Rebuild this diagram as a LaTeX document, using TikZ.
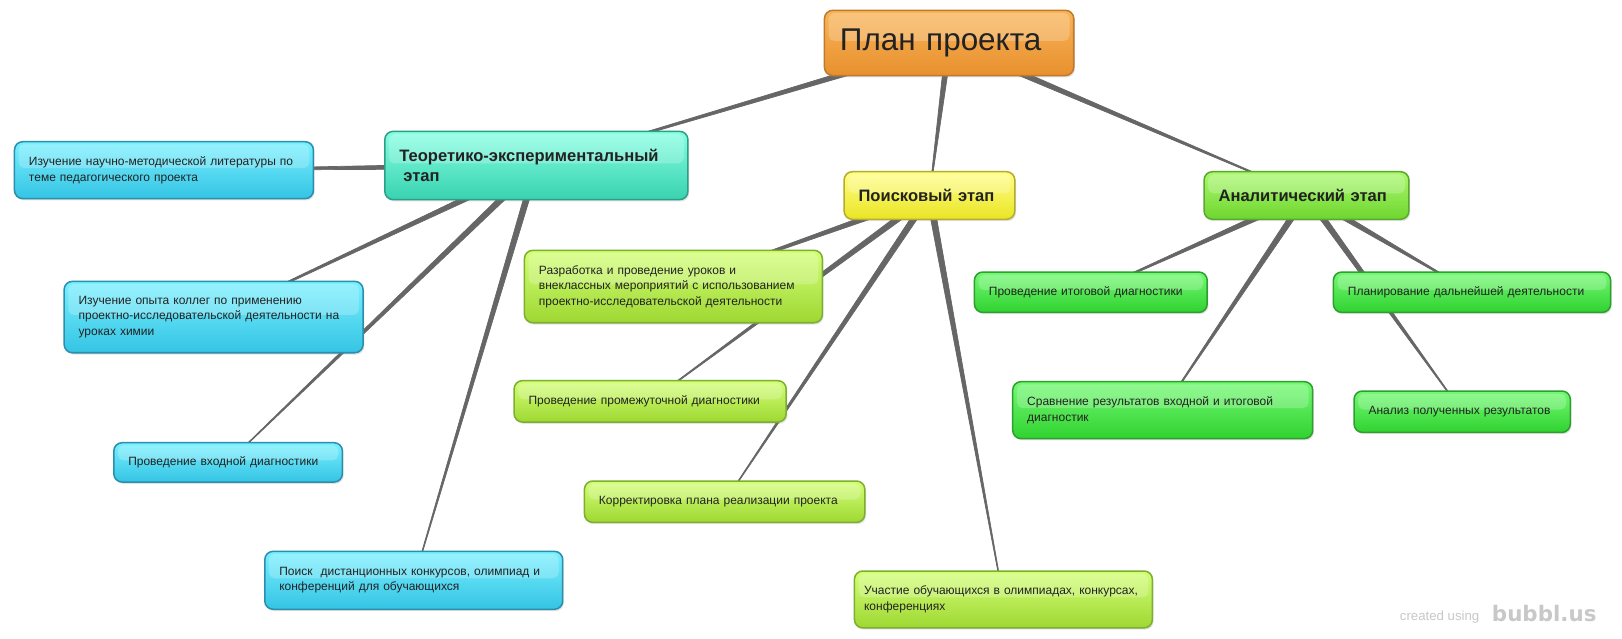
\documentclass[tikz,border=0pt]{standalone}
\usepackage{fontspec}
\setmainfont{Liberation Sans}
\newfontfamily\wmfont{DejaVu Sans}
\usetikzlibrary{calc,shadows}
\pgfdeclarelayer{canvas}
\pgfdeclarelayer{bg}
\pgfsetlayers{canvas,bg,main}
\definecolor{linkc}{HTML}{666666}
\definecolor{textc}{HTML}{222222}
\definecolor{planT}{HTML}{F9B55A}\definecolor{planB}{HTML}{E8902E}\definecolor{planD}{HTML}{C07A30}
\definecolor{tealT}{HTML}{86FFE2}\definecolor{tealB}{HTML}{38D2B0}\definecolor{tealD}{HTML}{2E9E86}
\definecolor{yelT}{HTML}{FFFF88}\definecolor{yelB}{HTML}{EAE424}\definecolor{yelD}{HTML}{B4AC2C}
\definecolor{agT}{HTML}{ACF870}\definecolor{agB}{HTML}{6ED62E}\definecolor{agD}{HTML}{5AA82E}
\definecolor{bluT}{HTML}{7AF0FF}\definecolor{bluB}{HTML}{34C4E4}\definecolor{bluD}{HTML}{2A8EAC}
\definecolor{limT}{HTML}{D4FF78}\definecolor{limB}{HTML}{9ED832}\definecolor{limD}{HTML}{7EAE30}
\definecolor{grnT}{HTML}{74FA74}\definecolor{grnB}{HTML}{30D230}\definecolor{grnD}{HTML}{2E9E2E}
\definecolor{wmc}{HTML}{C8C8C8}
\newcommand\taperlink[2]{\filldraw[linkc, line width=0.5pt, line join=round] ($(#1.center)!2.3pt!90:(#2.center)$) -- ($(#1.center)!2.3pt!-90:(#2.center)$) -- ($(#2.center)!0.15pt!90:(#1.center)$) -- ($(#2.center)!0.15pt!-90:(#1.center)$) -- cycle;}
\tikzset{
  mapbox/.style={rounded corners=6pt, line width=1.1pt, inner xsep=10.5pt, inner ysep=0pt,
    align=left, text=textc, font=\fontsize{8.7}{11.25}\selectfont,
    drop shadow={opacity=0.22,shadow xshift=0.9pt,shadow yshift=-1.3pt},
    path picture={\fill[white,opacity=0.22,rounded corners=4pt]
      ($(path picture bounding box.north west)+(3pt,-2pt)$) rectangle ($(path picture bounding box.east)+(-3pt,1.5pt)$);}},
  headbox/.style={mapbox, font=\fontsize{12}{15}\selectfont\bfseries},
  planbox/.style={mapbox, inner xsep=11.25pt, font=\fontsize{22.8}{26}\selectfont, draw=planD, top color=planT, bottom color=planB},
  tealbox/.style={headbox, draw=tealD, top color=tealT, bottom color=tealB},
  yelbox/.style={headbox, draw=yelD, top color=yelT, bottom color=yelB},
  agbox/.style={headbox, draw=agD, top color=agT, bottom color=agB},
  blubox/.style={mapbox, draw=bluD, top color=bluT, bottom color=bluB},
  limbox/.style={mapbox, draw=limD, top color=limT, bottom color=limB},
  grnbox/.style={mapbox, draw=grnD, top color=grnT, bottom color=grnB},
  wmtext/.style={text=wmc, inner sep=0pt, anchor=base west}
}
\begin{document}
\begin{tikzpicture}[x=0.75pt,y=-0.75pt]
\useasboundingbox (0,0) rectangle (1568,617.7);
\begin{pgfonlayer}{canvas}
\fill[white] (0,0) rectangle (1568,617.7);
\end{pgfonlayer}
% root
\node[planbox, text width=158.25pt, minimum height=47.25pt] (plan) at (917.5,41.5) {План проекта};
% stages
\node[tealbox, text width=198.75pt, minimum height=49.5pt] (teor) at (518.5,160) {Теоретико-экспериментальный\\\hspace*{3pt}этап};
\node[yelbox, text width=102.75pt, minimum height=34.5pt] (poisk) at (898.5,189) {Поисковый этап};
\node[agbox, text width=127.5pt, minimum height=34.5pt] (anal) at (1263,189) {Аналитический этап};
% theoretical children
\node[blubox, text width=195.75pt, minimum height=41.25pt] (izuch) at (158.5,164.5) {Изучение научно-методической литературы по\\теме педагогического проекта};
\node[blubox, text width=195.75pt, minimum height=51.75pt] (opyt) at (206.5,306.5) {Изучение опыта коллег по применению\\проектно-исследовательской деятельности на\\уроках химии};
\node[blubox, text width=144.75pt, minimum height=28.5pt] (vhod) at (220.5,447) {Проведение входной диагностики};
\node[blubox, text width=195pt, minimum height=42pt] (dist) at (400,561) {Поиск\ \ дистанционных конкурсов, олимпиад и\\конференций для обучающихся};
% search children
\node[limbox, text width=195pt, minimum height=52.5pt] (razr) at (651,277) {Разработка и проведение уроков и\\внеклассных мероприятий с использованием\\проектно-исследовательской деятельности};
\node[limbox, text width=176.25pt, minimum height=30pt] (prom) at (628.5,388) {Проведение промежуточной диагностики};
\node[limbox, text width=182.25pt, minimum height=30pt] (korr) at (700.5,485) {Корректировка плана реализации проекта};
\node[limbox, text width=202pt, inner xsep=7pt, minimum height=41.25pt] (uch) at (970,579.5) {Участие обучающихся в олимпиадах, конкурсах,\\конференциях};
% analytic children
\node[grnbox, text width=147.75pt, minimum height=29.25pt] (itog) at (1054.5,282.5) {Проведение итоговой диагностики};
\node[grnbox, text width=180pt, minimum height=29.25pt] (dalsh) at (1423,282.5) {Планирование дальнейшей деятельности};
\node[grnbox, text width=196.5pt, minimum height=41.25pt] (sravn) at (1124,396.5) {Сравнение результатов входной и итоговой\\диагностик};
\node[grnbox, text width=135.75pt, minimum height=30pt] (analiz) at (1413.5,398) {Анализ полученных результатов};
% watermark
\node[wmtext, font=\fontsize{9.6}{11}\selectfont] (wm1) at (1353,600) {created using};
\node[wmtext, font=\wmfont\fontsize{15.5}{17}\selectfont\bfseries] (wm2) at (1442,601) {bubbl.us};
% connectors
\begin{pgfonlayer}{bg}
\taperlink{plan}{teor}
\taperlink{plan}{poisk}
\taperlink{plan}{anal}
\taperlink{teor}{izuch}
\taperlink{teor}{opyt}
\taperlink{teor}{vhod}
\taperlink{teor}{dist}
\taperlink{poisk}{razr}
\taperlink{poisk}{prom}
\taperlink{poisk}{korr}
\taperlink{poisk}{uch}
\taperlink{anal}{itog}
\taperlink{anal}{sravn}
\taperlink{anal}{dalsh}
\taperlink{anal}{analiz}
\end{pgfonlayer}
\end{tikzpicture}
\end{document}
